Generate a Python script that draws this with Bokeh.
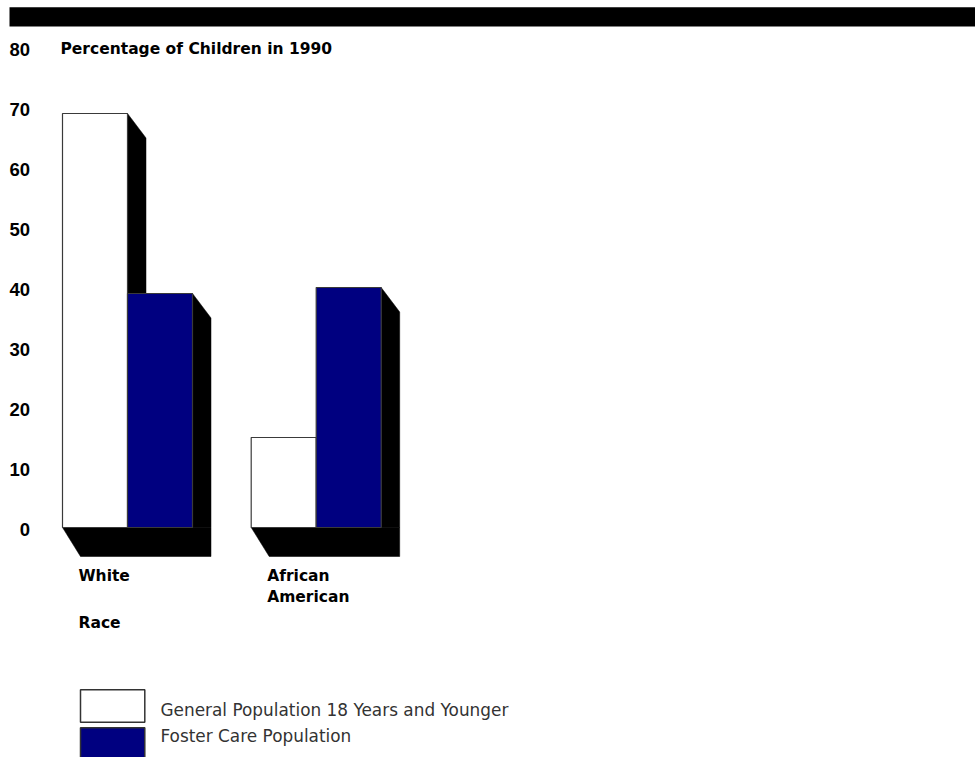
from bokeh.plotting import figure
from bokeh.models import Range1d, BoxAnnotation, Label, ColumnDataSource
from bokeh.core.properties import value
from bokeh.embed import file_html
from bokeh.resources import INLINE

# ---- data -------------------------------------------------------------
races = ["White", "African\nAmerican"]
general_pop = [69, 15]          # % of general population aged 18 and younger
foster_care = [39, 40]          # % of foster care population
series_names = ["General Population 18 Years and Younger", "Foster Care Population"]
y_ticks = [0, 10, 20, 30, 40, 50, 60, 70, 80]
title_text = "Percentage of Children in 1990"
axis_title = "Race"

# ---- layout constants (pixels) ----------------------------------------
W, H = 975, 757
PX_PER_UNIT = 6.0
BASE_PY = 527            # pixel row of the zero line
GROUP_LEFT0 = 62.0
GROUP_STEP = 188.7
BAR_W = 65.0
SIDE_DX, SIDE_DY = 18.5, 24.5     # depth of the extruded bar sides
FLOOR_DX, FLOOR_DY = 18.0, 29.0   # depth of the extruded floor
NAVY = "#000080"
EDGE = "#3a3a3a"

BOLD = "Liberation Sans"
LABEL_FONT = "DejaVu Sans"


def y_of(py):
    """Convert a pixel row (from the top) into a y value."""
    return (BASE_PY - py) / PX_PER_UNIT


def dy(px):
    return px / PX_PER_UNIT


p = figure(width=W, height=H, x_range=Range1d(0, W), y_range=Range1d(y_of(H), y_of(0)),
           x_axis_type=None, y_axis_type=None, output_backend="svg",
           toolbar_location=None, min_border=0)
p.grid.visible = False
p.outline_line_color = None
p.background_fill_color = "white"
p.border_fill_color = "white"

# heavy rule across the top
p.add_layout(BoxAnnotation(left=9, right=W, top=y_of(6.7), bottom=y_of(26),
                           fill_color="black", fill_alpha=1.0, line_color=None))

# ---- bar geometry -----------------------------------------------------
group_left = [GROUP_LEFT0 + i * GROUP_STEP for i in range(len(races))]
gen_x = [g + BAR_W / 2 for g in group_left]
fos_x = [g + BAR_W * 1.5 for g in group_left]

# shadow polygons: floor under each group plus the side face of each bar
shadow_xs, shadow_ys = [], []
for g, gv, fv in zip(group_left, general_pop, foster_care):
    right = g + 2 * BAR_W
    shadow_xs.append([g, g + FLOOR_DX, right + SIDE_DX, right + SIDE_DX])
    shadow_ys.append([0, -dy(FLOOR_DY), -dy(FLOOR_DY), 0])
    for r, v in ((g + BAR_W, gv), (right, fv)):
        shadow_xs.append([r, r + SIDE_DX, r + SIDE_DX, r])
        shadow_ys.append([v, v - dy(SIDE_DY), 0, 0])

p.patches(shadow_xs, shadow_ys, fill_color="black", line_color="black", line_width=0.5)

p.vbar(x=gen_x, width=BAR_W, top=general_pop, bottom=0,
       fill_color="white", line_color=EDGE, line_width=1.2)
p.vbar(x=fos_x, width=BAR_W, top=foster_care, bottom=0,
       fill_color=NAVY, line_color=EDGE, line_width=1.2)

# ---- value axis labels -----------------------------------------------
tick_src = ColumnDataSource(dict(x=[29.5] * len(y_ticks), y=y_ticks,
                                 t=[str(v) for v in y_ticks]))
p.text(x="x", y="y", text="t", source=tick_src, text_align="right",
       text_baseline="middle", y_offset=1.5, text_font=value(BOLD),
       text_font_style="bold", text_font_size="18.5px", text_color="black")

# ---- category labels --------------------------------------------------
cat_src = ColumnDataSource(dict(x=[g + 16 for g in group_left],
                                y=[y_of(566)] * len(races), t=races))
p.text(x="x", y="y", text="t", source=cat_src, text_align="left",
       text_baseline="top", text_font=value(LABEL_FONT), text_font_style="bold",
       text_font_size="15.5px", text_line_height=1.2, text_color="black")

p.add_layout(Label(x=78, y=y_of(622.5), text=axis_title, text_align="left",
                   text_baseline="middle", text_font=LABEL_FONT, text_font_style="bold",
                   text_font_size="15.5px", text_color="black"))

p.add_layout(Label(x=60, y=y_of(48), text=title_text, text_align="left",
                   text_baseline="middle", text_font=LABEL_FONT, text_font_style="bold",
                   text_font_size="15.5px", text_color="black"))

# ---- legend -----------------------------------------------------------
legend_fill = ["white", NAVY]
legend_box_top = [689.3, 727.3]
legend_text_mid = [709.2, 735.3]
for name, fill, bt, tm in zip(series_names, legend_fill, legend_box_top, legend_text_mid):
    p.add_layout(BoxAnnotation(left=80, right=144.3, top=y_of(bt), bottom=y_of(bt + 32.4),
                               fill_color=fill, fill_alpha=1.0,
                               line_color="#333333", line_alpha=1.0, line_width=1.5))
    p.add_layout(Label(x=160, y=y_of(tm), text=name, text_align="left",
                       text_baseline="middle", text_font=LABEL_FONT,
                       text_font_size="16.9px", text_color="#333333"))

open("out.html", "w").write(file_html(p, INLINE))
